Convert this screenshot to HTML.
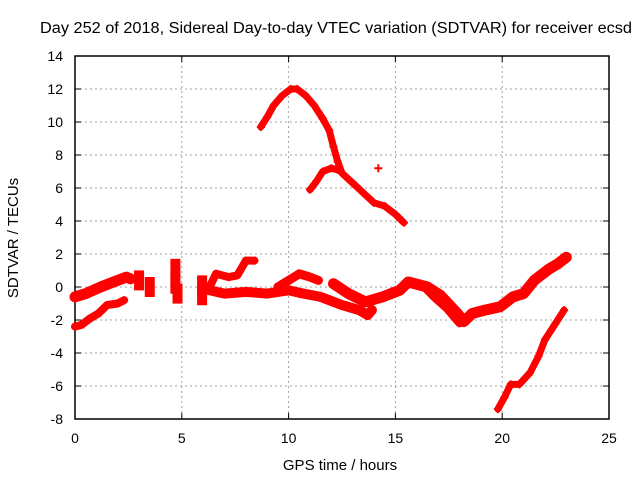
<!DOCTYPE html>
<html><head><meta charset="utf-8"><style>
body{margin:0;background:#fff}
svg text{font-family:"Liberation Sans",sans-serif;font-size:14px;fill:#000}
</style></head><body>
<svg id="chart" width="640" height="480" viewBox="0 0 640 480">
<text x="336" y="33" text-anchor="middle" textLength="592" lengthAdjust="spacingAndGlyphs" style="font-size:15.5px">Day 252 of 2018, Sidereal Day-to-day VTEC variation (SDTVAR) for receiver ecsd</text>
<g id="grid"></g>
<g id="axes"></g>
<g id="series"></g>
<text x="340" y="470" text-anchor="middle" style="font-size:15px">GPS time / hours</text>
<text x="18" y="238" text-anchor="middle" transform="rotate(-90 18 238)" style="font-size:15px">SDTVAR / TECUs</text>
</svg>
<script>
const xTicks=[0,5,10,15,20,25];
const yTicks=[-8,-6,-4,-2,0,2,4,6,8,10,12,14];
const traceUpperH=[8.7,9.0,9.3,9.7,10.1,10.4,10.8,11.2,11.6,11.9,12.1,12.3,12.5,13.0,13.5,14.0,14.5,15.0,15.4];
const traceUpperV=[9.7,10.3,11.0,11.6,12.0,12.0,11.6,11.0,10.2,9.5,8.5,7.6,6.9,6.3,5.7,5.1,4.9,4.4,3.9];
const traceMidHighH=[11.0,11.3,11.6,12.0,12.3];
const traceMidHighV=[5.9,6.4,7.0,7.2,7.1];
const isolatedH=[14.2];
const isolatedV=[7.2];
const traceNegH=[19.8,20.1,20.4,20.8,21.3,21.7,22.0,22.5,22.9];
const traceNegV=[-7.4,-6.7,-5.9,-5.9,-5.2,-4.2,-3.2,-2.2,-1.4];
const traceLowH=[0,0.3,0.7,1.1,1.5,2.0,2.3];
const traceLowV=[-2.4,-2.3,-1.9,-1.6,-1.1,-1.0,-0.8];
const traceTopLeftH=[0,0.5,1.2,1.8,2.4,2.6];
const traceTopLeftV=[-0.6,-0.4,0,0.3,0.6,0.5];
const blobH=[3.0,3.5,4.7,4.7,4.8,5.95,5.95];
const blobV=[0.4,0,0.2,1.1,-0.4,-0.5,0.1];
const traceBandH=[6.3,7.0,8.0,9.0,9.5,10.0,10.5,11.5,12.5,13.3,13.7,13.9];
const traceBandV=[-0.2,-0.4,-0.3,-0.4,-0.3,-0.2,-0.35,-0.6,-1.1,-1.4,-1.7,-1.4];
const traceRiseH=[6.3,6.6,7.2,7.6,8.0,8.4];
const traceRiseV=[0,0.8,0.6,0.7,1.6,1.6];
const traceUpperBandH=[9.5,10.0,10.5,11.0,11.4];
const traceUpperBandV=[0,0.4,0.8,0.6,0.4];
const traceMainH=[12.1,12.8,13.6,14.4,15.2,15.6,16.5,17.1,17.9,18.2,18.6,19.2,19.9,20.5,21.0,21.5,22.2,22.6,23.0];
const traceMainV=[0.2,-0.4,-0.9,-0.6,-0.2,0.3,0,-0.5,-1.6,-2.1,-1.6,-1.4,-1.2,-0.6,-0.4,0.4,1.1,1.4,1.8];
const traceBranchH=[16.2,16.8,17.4,18.0];
const traceBranchV=[0.2,-0.6,-1.3,-2.2];
const L=75,R=609,T=56,B=419;
const xs=h=>L+(h-0)/(25-0)*(R-L);
const ys=v=>B-(v+8)/(14+8)*(B-T);
const NS="http://www.w3.org/2000/svg";
function mk(tag,attrs,parent){const e=document.createElementNS(NS,tag);for(const k in attrs)e.setAttribute(k,attrs[k]);parent.appendChild(e);return e;}
const grid=document.getElementById('grid'),axes=document.getElementById('axes'),ser=document.getElementById('series');
xTicks.forEach(t=>{const x=xs(t);
 if(t>0&&t<25){const g=mk('line',{x1:x,x2:x,y1:T,y2:B,stroke:'#a0a0a0','stroke-dasharray':'2,3'},grid);
 
 }
 mk('line',{x1:x,x2:x,y1:B,y2:B-6,stroke:'#000'},axes);mk('line',{x1:x,x2:x,y1:T,y2:T+6,stroke:'#000'},axes);
 const tx=mk('text',{x:x,y:B+24,'text-anchor':'middle'},axes);tx.textContent=t;
 
 });
yTicks.forEach(t=>{const y=ys(t);
 if(t>-8&&t<14){const g=mk('line',{x1:L,x2:R,y1:y,y2:y,stroke:'#a0a0a0','stroke-dasharray':'2,3'},grid);
 
 }
 mk('line',{x1:L,x2:L+6,y1:y,y2:y,stroke:'#000'},axes);mk('line',{x1:R,x2:R-6,y1:y,y2:y,stroke:'#000'},axes);
 const tx=mk('text',{x:L-12,y:y+5,'text-anchor':'end'},axes);tx.textContent=t;
 
 });
mk('rect',{x:L,y:T,width:R-L,height:B-T,fill:'none',stroke:'#000','stroke-width':1.5},axes);
function trace(H,V,name,w){
 const d=H.map((h,i)=>(i?'L':'M')+xs(h).toFixed(1)+','+ys(V[i]).toFixed(1)).join(' ');
 const p=mk('path',{d:d,fill:'none',stroke:'#f00','stroke-width':w||8,'stroke-linejoin':'round','stroke-linecap':'round'},ser);
 
 
 H.forEach((h,i)=>{const x=xs(h),y=ys(V[i]);
  const m=mk('path',{d:`M${x-4},${y}H${x+4}M${x},${y-4}V${y+4}`,stroke:'#f00','stroke-width':2},ser);
  
  });
}
trace(traceUpperH,traceUpperV,'trace-upper',7);
trace(traceMidHighH,traceMidHighV,'trace-mid-high',7);
trace(isolatedH,isolatedV,'isolated-point',0);
trace(traceNegH,traceNegV,'trace-negative',7);
trace(traceLowH,traceLowV,'trace-low',8);
trace(traceTopLeftH,traceTopLeftV,'trace-top-left',11);
blobH.forEach((h,i)=>{const x=xs(h),y=ys(blobV[i]);
 const r=mk('rect',{x:x-5,y:y-10,width:10,height:20,fill:'#f00'},ser);
 
 });
trace(traceBandH,traceBandV,'trace-band',10);
trace(traceRiseH,traceRiseV,'trace-rise',8);
trace(traceUpperBandH,traceUpperBandV,'trace-upper-band',9);
trace(traceMainH,traceMainV,'trace-main',11);
trace(traceBranchH,traceBranchV,'trace-branch',8);
</script>
</body></html>
